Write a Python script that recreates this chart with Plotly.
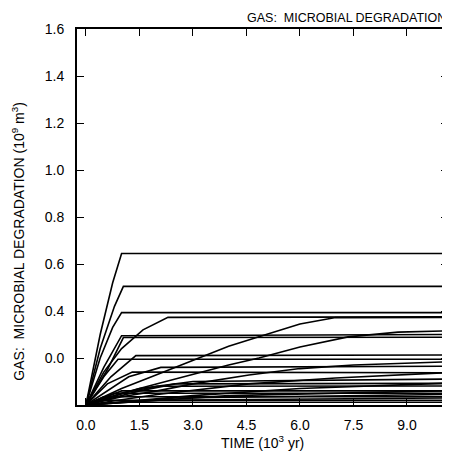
import plotly.graph_objects as go

# Time (10^3 yr) and gas volume (10^9 m^3) for each realization
series_t = [
    [0, 0.4, 0.75, 1.0, 10],
    [0, 0.4, 0.8, 1.05, 10],
    [0, 0.4, 0.75, 1.0, 10],
    [0, 0.5, 1.0, 1.6, 2.3, 10],
    [0, 0.5, 1.0, 10],
    [0, 0.6, 1.05, 10],
    [0, 0.7, 1.4, 10],
    [0, 0.5, 0.9, 10],
    [0, 0.6, 1.3, 10],
    [0, 1.5, 2.5, 10],
    [0, 1.0, 2.0, 10],
    [0, 1.0, 10],
    [0, 0.8, 10],
    [0, 0.5, 10],
    [0, 0.5, 10],
    [0, 1, 2, 3, 4, 4.85, 6, 7, 10],
    [0, 1, 2, 3, 4, 4.85, 6, 7.35, 8.75, 10],
    [0, 1, 2, 3, 4.57, 6, 7.5, 10],
    [0, 2, 4.57, 7, 10],
    [0, 3, 6, 10],
    [0, 4, 10],
    [0, 2, 10],
    [0, 1.5, 3, 10],
    [0, 1.2, 2.1, 10],
    [0, 2.5, 10],
    [0, 1.0, 10],
]
series_y = [
    [0, 0.30, 0.52, 0.645, 0.645],
    [0, 0.24, 0.42, 0.505, 0.505],
    [0, 0.20, 0.33, 0.393, 0.393],
    [0, 0.14, 0.24, 0.32, 0.373, 0.375],
    [0, 0.16, 0.295, 0.300],
    [0, 0.15, 0.287, 0.288],
    [0, 0.12, 0.21, 0.213],
    [0, 0.12, 0.195, 0.195],
    [0, 0.09, 0.14, 0.137],
    [0, 0.06, 0.09, 0.092],
    [0, 0.05, 0.08, 0.081],
    [0, 0.06, 0.06],
    [0, 0.05, 0.05],
    [0, 0.035, 0.035],
    [0, 0.02, 0.02],
    [0, 0.07, 0.13, 0.19, 0.25, 0.29, 0.345, 0.372, 0.373],
    [0, 0.05, 0.09, 0.13, 0.17, 0.20, 0.247, 0.29, 0.31, 0.315],
    [0, 0.035, 0.06, 0.09, 0.128, 0.155, 0.17, 0.183],
    [0, 0.045, 0.09, 0.115, 0.137],
    [0, 0.04, 0.07, 0.092],
    [0, 0.04, 0.06],
    [0, 0.02, 0.03],
    [0, 0.07, 0.10, 0.11],
    [0, 0.12, 0.16, 0.165],
    [0, 0.03, 0.045],
    [0, 0.012, 0.012],
]

x_tickvals = [0, 1.5, 3.0, 4.5, 6.0, 7.5, 9.0]
x_ticktext = ["0.0", "1.5", "3.0", "4.5", "6.0", "7.5", "9.0"]
y_tickvals = [0.2, 0.4, 0.6, 0.8, 1.0, 1.2, 1.4, 1.6]
y_ticktext = ["0.0", "0.4", "0.6", "0.8", "1.0", "1.2", "1.4", "1.6"]

FONT = "Liberation Sans, Arial, Helvetica, sans-serif"

fig = go.Figure()
for t, y in zip(series_t, series_y):
    fig.add_trace(go.Scatter(x=t, y=y, mode="lines",
                             line=dict(color="black", width=1.6),
                             showlegend=False, hoverinfo="skip"))

# page body has an 8px margin, so the figure is 442x458 and offset by 8px
fig.update_layout(
    width=442, height=458,
    margin=dict(l=69, r=0, t=21, b=61),
    paper_bgcolor="white", plot_bgcolor="white",
    font=dict(family=FONT, color="black", size=14),
    xaxis=dict(range=[-0.25, 10.15], tickvals=x_tickvals, ticktext=x_ticktext,
               ticks="inside", ticklen=7, tickwidth=1.3, tickcolor="black",
               showline=True, linecolor="black", linewidth=1.8, mirror="ticks",
               showgrid=False, zeroline=False, ticklabelstandoff=6,
               tickfont=dict(size=14)),
    yaxis=dict(range=[0, 1.6], tickvals=y_tickvals, ticktext=y_ticktext,
               ticks="inside", ticklen=7, tickwidth=1.3, tickcolor="black",
               showline=True, linecolor="black", linewidth=1.8, mirror="ticks",
               showgrid=False, zeroline=False, ticklabelstandoff=8,
               tickfont=dict(size=14)),
    annotations=[
        dict(text="GAS:\u00a0 MICROBIAL DEGRADATION", xref="paper", yref="paper",
             x=1.0, y=1.0, xanchor="right", yanchor="bottom", yshift=3,
             xshift=-1, borderpad=0,
             showarrow=False, font=dict(size=12.5)),
        dict(text="TIME (10<sup>3</sup> yr)", xref="paper", yref="paper",
             x=0.5, y=-0.098, xanchor="center", yanchor="middle",
             showarrow=False, font=dict(size=14)),
        dict(text="GAS:\u00a0 MICROBIAL DEGRADATION (10<sup>9</sup> m<sup>3</sup>)",
             xref="paper", yref="paper", x=-0.16, y=(405 - 241) / 376,
             xanchor="center", yanchor="middle", textangle=-90,
             showarrow=False, font=dict(size=14)),
    ],
)

fig.write_html("out.html")
